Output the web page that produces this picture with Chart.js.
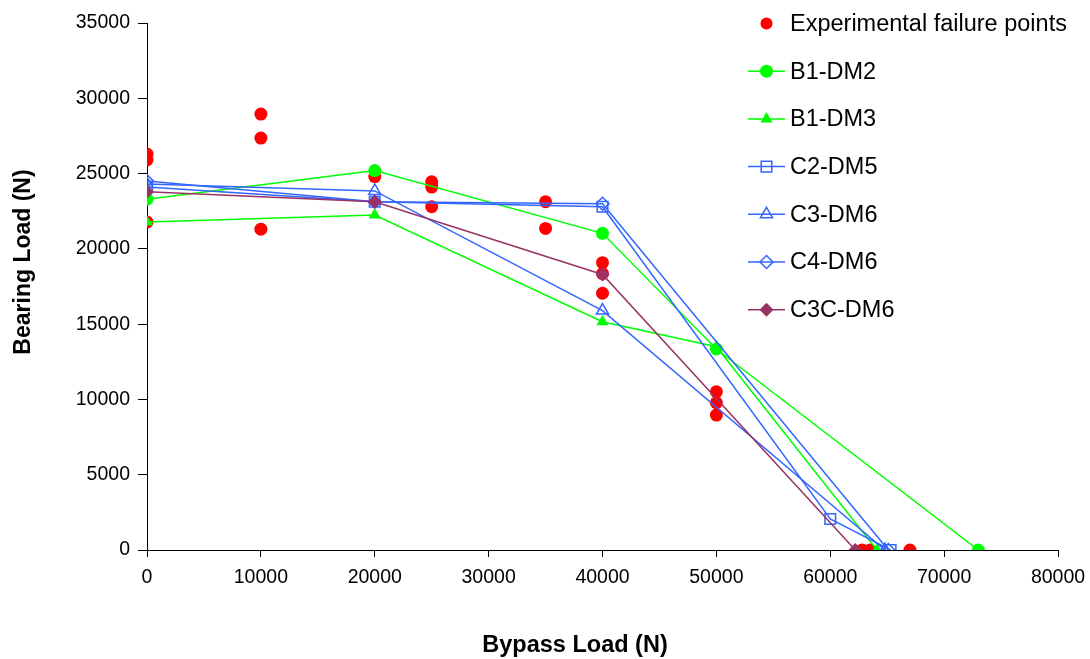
<!DOCTYPE html>
<html lang="en">
<head>
  <meta charset="UTF-8">
  <title>Bearing vs Bypass Load</title>
  <script src="https://cdn.jsdelivr.net/npm/chart.js"></script>
  <style>
    html, body { margin: 0; padding: 0; background: #fff; }
    #wrap { width: 1090px; height: 659px; }
  </style>
</head>
<body>
  <div id="wrap"><canvas id="loadChart" width="1090" height="659"></canvas></div>

  <script>
    // experimental failure points
    const expX = [0, 0, 0, 10000, 10000, 10000, 20000, 25000, 25000, 25000, 35000, 35000,
                  40000, 40000, 40000, 50000, 50000, 50000, 62800, 63500, 67000];
    const expY = [26300, 25900, 21780, 28950, 27360, 21310, 24800, 24450, 24100, 22800, 23130, 21360,
                  19080, 18350, 17050, 10510, 9780, 8960, 0, 0, 0];

    // model predictions
    const b1dm2X = [0, 20000, 40000, 50000, 73000];
    const b1dm2Y = [23300, 25200, 21030, 13350, 0];
    const b1dm3X = [0, 20000, 40000, 50000, 64100];
    const b1dm3Y = [21780, 22250, 15160, 13500, 0];
    const c2dm5X = [0, 20000, 40000, 60000, 65300];
    const c2dm5Y = [24100, 23130, 22800, 2060, 0];
    const c3dm6X = [0, 20000, 40000, 64800];
    const c3dm6Y = [24300, 23850, 15900, 0];
    const c4dm6X = [0, 20000, 40000, 65100];
    const c4dm6Y = [24500, 23130, 23000, 0];
    const c3cdm6X = [0, 20000, 40000, 62200];
    const c3cdm6Y = [23800, 23130, 18300, 0];

    const xTicks = [0, 10000, 20000, 30000, 40000, 50000, 60000, 70000, 80000];
    const yTicks = [0, 5000, 10000, 15000, 20000, 25000, 30000, 35000];

    const FONT = "'Liberation Sans', Arial, sans-serif";
    const BLUE = '#3366ff';
    const GREEN = '#00ff00';
    const NONE = 'rgba(0,0,0,0)';

    function pts(xs, ys) {
      return xs.map((x, i) => ({ x: x, y: ys[i] }));
    }

    const datasets = [
      { label: 'Experimental failure points', data: pts(expX, expY), showLine: false,
        pointStyle: 'circle', pointRadius: 6.5, backgroundColor: '#ff0000', borderColor: '#ff0000',
        pointBorderWidth: 0, order: 10, legendLine: false },
      { label: 'B1-DM2', data: pts(b1dm2X, b1dm2Y), showLine: true,
        pointStyle: 'circle', pointRadius: 6.5, backgroundColor: GREEN, borderColor: GREEN,
        pointBorderWidth: 0, order: 6, legendLine: true },
      { label: 'B1-DM3', data: pts(b1dm3X, b1dm3Y), showLine: true,
        pointStyle: 'triangle', pointRadius: 7, backgroundColor: GREEN, borderColor: GREEN,
        pointBorderWidth: 0, order: 5, legendLine: true },
      { label: 'C2-DM5', data: pts(c2dm5X, c2dm5Y), showLine: true,
        pointStyle: 'rect', pointRadius: 7.5, backgroundColor: NONE, borderColor: BLUE,
        pointBorderWidth: 1.5, order: 4, legendLine: true },
      { label: 'C3-DM6', data: pts(c3dm6X, c3dm6Y), showLine: true,
        pointStyle: 'triangle', pointRadius: 7, backgroundColor: NONE, borderColor: BLUE,
        pointBorderWidth: 1.5, order: 3, legendLine: true },
      { label: 'C4-DM6', data: pts(c4dm6X, c4dm6Y), showLine: true,
        pointStyle: 'rectRot', pointRadius: 6.5, backgroundColor: NONE, borderColor: BLUE,
        pointBorderWidth: 1.5, order: 2, legendLine: true },
      { label: 'C3C-DM6', data: pts(c3cdm6X, c3cdm6Y), showLine: true,
        pointStyle: 'rectRot', pointRadius: 7, backgroundColor: '#993366', borderColor: '#993366',
        pointBorderWidth: 0, order: 1, legendLine: true }
    ];
    datasets.forEach(d => {
      d.borderWidth = 1.5;
      d.pointBackgroundColor = d.backgroundColor;
      d.pointBorderColor = d.borderColor;
      d.pointHoverRadius = d.pointRadius;
      d.tension = 0;
    });

    // axis titles and legend drawn on top of the chart
    const extras = {
      id: 'extras',
      afterDraw(chart) {
        const ctx = chart.ctx;
        ctx.save();
        ctx.fillStyle = '#000';
        ctx.font = 'bold 23.5px ' + FONT;
        ctx.textAlign = 'center';
        ctx.textBaseline = 'middle';
        ctx.fillText('Bypass Load (N)', 575, 646);
        ctx.translate(24, 262);
        ctx.rotate(-Math.PI / 2);
        ctx.font = 'bold 23px ' + FONT;
        ctx.fillText('Bearing Load (N)', 0, 0);
        ctx.restore();

        ctx.save();
        chart.data.datasets.forEach((d, i) => {
          const y = 23.5 + i * 47.7;
          if (d.legendLine) {
            ctx.strokeStyle = d.borderColor;
            ctx.lineWidth = 1.5;
            ctx.beginPath();
            ctx.moveTo(748, y);
            ctx.lineTo(785, y);
            ctx.stroke();
          }
          ctx.fillStyle = d.backgroundColor;
          ctx.strokeStyle = d.borderColor;
          ctx.lineWidth = d.pointBorderWidth;
          Chart.helpers.drawPoint(ctx, {
            pointStyle: d.pointStyle,
            radius: i === 0 ? 6 : d.pointRadius,
            rotation: 0,
            borderWidth: d.pointBorderWidth
          }, 766.5, y);
          ctx.fillStyle = '#000';
          ctx.font = '23.5px ' + FONT;
          ctx.textAlign = 'left';
          ctx.textBaseline = 'middle';
          ctx.fillText(d.label, 790, y + 1);
        });
        ctx.restore();
      }
    };

    new Chart(document.getElementById('loadChart'), {
      type: 'scatter',
      data: { datasets: datasets },
      options: {
        responsive: false,
        animation: false,
        layout: { padding: { top: 23, right: 32, left: 0, bottom: 0 } },
        plugins: { legend: { display: false }, tooltip: { enabled: false } },
        scales: {
          x: {
            type: 'linear', min: 0, max: 80000,
            afterFit: s => { s.height = 109; s.paddingLeft = 0; s.paddingRight = 0; },
            afterBuildTicks: s => { s.ticks = xTicks.map(v => ({ value: v })); },
            border: { color: '#000', width: 1 },
            grid: { drawOnChartArea: false, tickLength: 7, color: '#000' },
            ticks: { color: '#000', padding: 9, maxRotation: 0, autoSkip: false,
                     font: { family: FONT, size: 19.5 }, callback: v => String(v) }
          },
          y: {
            type: 'linear', min: 0, max: 35000,
            afterFit: s => { s.width = 147; s.paddingTop = 0; s.paddingBottom = 0; },
            afterBuildTicks: s => { s.ticks = yTicks.map(v => ({ value: v })); },
            border: { color: '#000', width: 1 },
            grid: { drawOnChartArea: false, tickLength: 9, color: '#000' },
            ticks: { color: '#000', padding: 8, autoSkip: false,
                     font: { family: FONT, size: 19.5 }, callback: v => String(v) }
          }
        }
      },
      plugins: [extras]
    });
  </script>
</body>
</html>
